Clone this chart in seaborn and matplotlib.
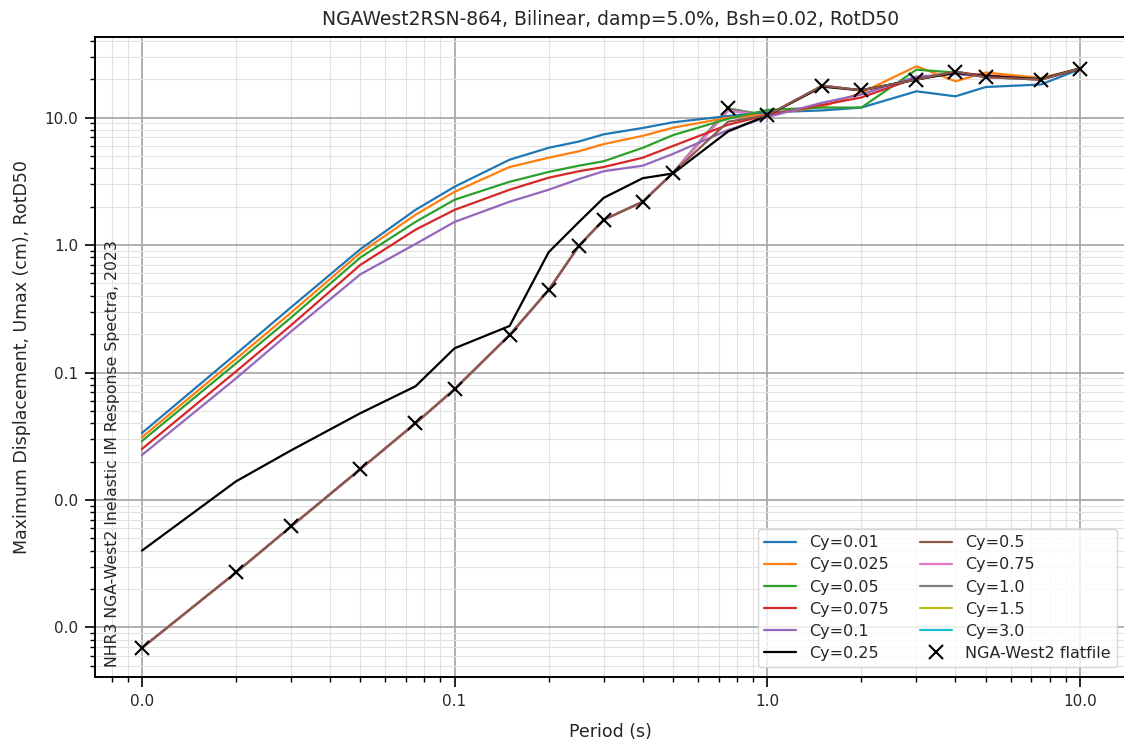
import matplotlib
matplotlib.use("Agg")
import matplotlib.pyplot as plt
import matplotlib.ticker as mticker
import seaborn as sns

# ── Data
periods = [0.01, 0.02, 0.03, 0.05, 0.075, 0.1, 0.15, 0.2, 0.25, 0.3, 0.4,
           0.5, 0.75, 1.0, 1.5, 2.0, 3.0, 4.0, 5.0, 7.5, 10.0]

cy_labels = ["Cy=0.01", "Cy=0.025", "Cy=0.05", "Cy=0.075", "Cy=0.1", "Cy=0.25",
             "Cy=0.5", "Cy=0.75", "Cy=1.0", "Cy=1.5", "Cy=3.0"]

umax_cy001 = [0.0335, 0.140, 0.325, 0.93, 1.89, 2.87, 4.68, 5.8, 6.5, 7.4, 8.3,
              9.2, 10.3, 11.0, 11.4, 12.0, 16.1, 14.7, 17.4, 18.2, 24.0]
umax_cy0025 = [0.031, 0.128, 0.295, 0.87, 1.73, 2.62, 4.1, 4.85, 5.45, 6.2, 7.2,
               8.35, 10.0, 10.6, 12.2, 15.7, 25.3, 19.3, 22.6, 20.5, 24.3]
umax_cy005 = [0.029, 0.118, 0.27, 0.80, 1.52, 2.27, 3.14, 3.75, 4.2, 4.55, 5.8,
              7.3, 9.8, 11.5, 12.0, 12.0, 23.8, 22.6, 21.1, 20.2, 24.2]
umax_cy0075 = [0.0251, 0.102, 0.235, 0.70, 1.32, 1.89, 2.72, 3.38, 3.8, 4.1, 4.85,
               6.0, 8.8, 10.5, 12.6, 14.4, 20.5, 22.6, 21.5, 20.0, 24.2]
umax_cy01 = [0.0225, 0.090, 0.21, 0.59, 1.02, 1.52, 2.19, 2.72, 3.3, 3.8, 4.2,
             5.2, 8.0, 10.1, 13.1, 15.2, 21.0, 22.0, 21.0, 20.0, 24.3]
umax_cy025 = [0.0040, 0.0140, 0.0245, 0.048, 0.078, 0.155, 0.232, 0.88, 1.52, 2.35, 3.35,
              3.65, 7.8, 10.4, 17.5, 16.4, 19.9, 22.5, 21.2, 20.0, 24.3]
umax_cy05 = [0.00069, 0.0027, 0.0062, 0.0175, 0.040, 0.074, 0.197, 0.445, 0.99, 1.58, 2.19,
             3.70, 9.3, 10.4, 17.8, 16.4, 19.9, 23.0, 20.8, 19.9, 24.3]
umax_cy075 = [0.00069, 0.0027, 0.0062, 0.0175, 0.040, 0.074, 0.197, 0.445, 0.99, 1.58, 2.19,
              3.70, 11.3, 10.4, 17.8, 16.4, 19.9, 23.0, 20.8, 19.9, 24.3]
umax_cy10 = [0.00069, 0.0027, 0.0062, 0.0175, 0.040, 0.074, 0.197, 0.445, 0.99, 1.58, 2.19,
             3.70, 11.8, 10.4, 17.8, 16.4, 19.9, 23.0, 20.8, 19.9, 24.3]
umax_cy15 = [0.00069, 0.0027, 0.0062, 0.0175, 0.040, 0.074, 0.197, 0.445, 0.99, 1.58, 2.19,
             3.70, 11.8, 10.4, 17.8, 16.4, 19.9, 23.0, 20.8, 19.9, 24.3]
umax_cy30 = [0.00069, 0.0027, 0.0062, 0.0175, 0.040, 0.074, 0.197, 0.445, 0.99, 1.58, 2.19,
             3.70, 11.8, 10.4, 17.8, 16.4, 19.9, 23.0, 20.8, 19.9, 24.3]

nga_flatfile = [0.00069, 0.0027, 0.0062, 0.0175, 0.040, 0.074, 0.197, 0.445, 0.99, 1.58, 2.19,
                3.70, 11.8, 10.4, 17.8, 16.4, 19.9, 23.0, 20.8, 19.9, 24.3]

series = [umax_cy001, umax_cy0025, umax_cy005, umax_cy0075, umax_cy01, umax_cy025,
          umax_cy05, umax_cy075, umax_cy10, umax_cy15, umax_cy30]
colors = ["#1f77b4", "#ff7f0e", "#2ca02c", "#d62728", "#9467bd", "black",
          "#8c564b", "#e377c2", "#7f7f7f", "#bcbd22", "#17becf"]
# elastic-range curves sit underneath the brown one
zorders = [2, 2, 2, 2, 2, 2, 2, 1.9, 1.8, 1.7, 1.6]

sns.set_style("ticks")
plt.rcParams["font.family"] = ["DejaVu Sans"]

fig = plt.figure(figsize=(11.24, 7.44), dpi=100)
ax = fig.add_axes([0.0845, 0.090, 0.918, 0.860])

for lab, vals, col, z in zip(cy_labels, series, colors, zorders):
    sns.lineplot(x=periods, y=vals, color=col, label=lab, linewidth=1.6,
                 zorder=z, ax=ax, legend=False)

ax.plot(periods, nga_flatfile, "x", color="black", markersize=10, markeredgewidth=1.5,
        label="NGA-West2 flatfile", zorder=3)

ax.set_xscale("log")
ax.set_yscale("log")
ax.xaxis.set_major_formatter(mticker.FormatStrFormatter("%.1f"))
ax.yaxis.set_major_formatter(mticker.FormatStrFormatter("%.1f"))
ax.xaxis.set_minor_formatter(mticker.NullFormatter())
ax.yaxis.set_minor_formatter(mticker.NullFormatter())
ax.tick_params(axis="both", which="major", labelsize=11, length=7, width=1.2,
               pad=5, color="black")
ax.tick_params(axis="both", which="minor", length=3.5, width=1.0, color="black")
for sp in ax.spines.values():
    sp.set_color("black")
    sp.set_linewidth(1.4)

ax.grid(which="major", color="#aaaaaa", linewidth=1.3)
ax.grid(which="minor", color="#e2e2e2", linewidth=0.8)
ax.set_axisbelow(True)

ax.set_title("NGAWest2RSN-864, Bilinear, damp=5.0%, Bsh=0.02, RotD50", fontsize=13.5, pad=9)
ax.set_xlabel("Period (s)", fontsize=12.5, labelpad=10)
ax.set_ylabel("Maximum Displacement, Umax (cm), RotD50", fontsize=12.5, labelpad=10)
ax.text(0.010, 0.015, "NHR3 NGA-West2 Inelastic IM Response Spectra, 2023",
        transform=ax.transAxes, rotation=90, ha="left", va="bottom", fontsize=11.3)

ax.legend(ncol=2, loc="lower right", fontsize=11.5, framealpha=0.8,
          labelspacing=0.45, borderaxespad=0.6)

plt.savefig("out.png", dpi=100)
plt.close()
